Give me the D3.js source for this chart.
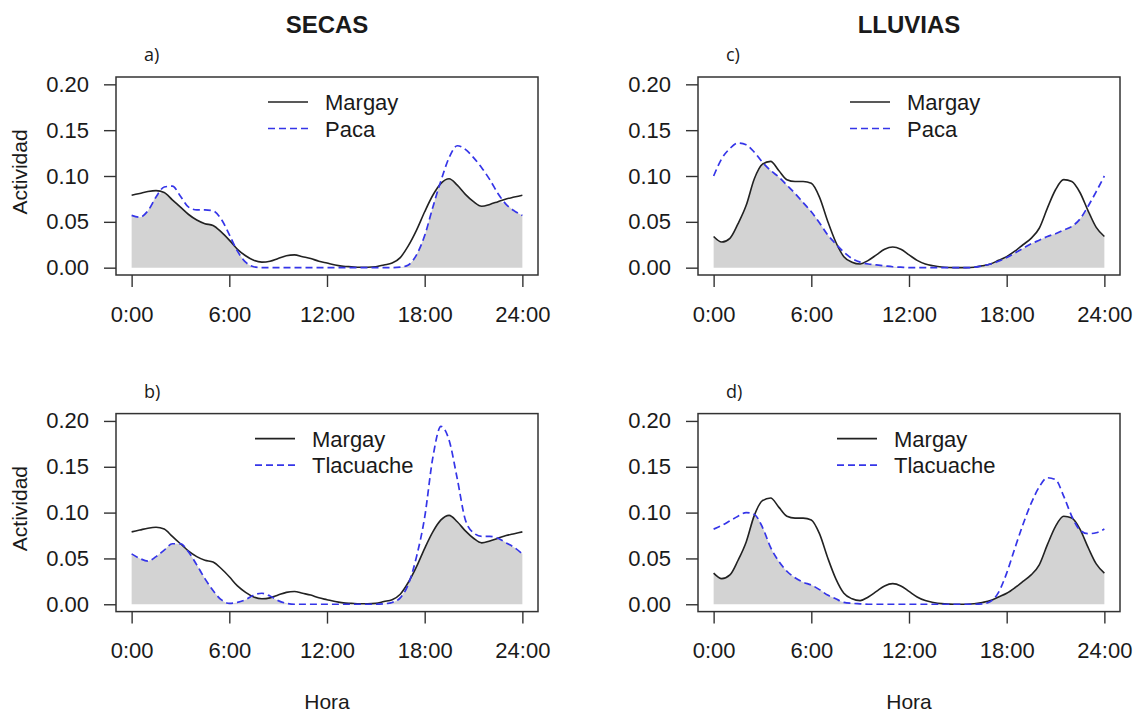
<!DOCTYPE html>
<html>
<head>
<meta charset="utf-8">
<script src="https://cdn.jsdelivr.net/npm/d3@7"></script>
<style>
  body { margin: 0; background: #fff; }
  text { font-family: "Liberation Sans", Arial, sans-serif; fill: #1a1a1a; }
</style>
</head>
<body>
<div id="canvas"></div>
<script>
// hour of day, every half hour
var hours = [0, 0.5, 1, 1.5, 2, 2.5, 3, 3.5, 4, 4.5, 5, 5.5, 6, 6.5, 7, 7.5, 8, 8.5, 9, 9.5,
    10, 10.5, 11, 11.5, 12, 12.5, 13, 13.5, 14, 14.5, 15, 15.5, 16, 16.5, 17, 17.5, 18, 18.5, 19, 19.5,
    20, 20.5, 21, 21.5, 22, 22.5, 23, 23.5, 24]

// activity densities
var margaySecas = [0.079, 0.081, 0.083, 0.084, 0.082, 0.074, 0.066, 0.058, 0.052, 0.048, 0.046, 0.039, 0.030, 0.020, 0.013, 0.008, 0.006, 0.007, 0.010, 0.013,
    0.014, 0.012, 0.010, 0.007, 0.005, 0.003, 0.0015, 0.001, 0.0005, 0.0005, 0.001, 0.003, 0.005, 0.011, 0.024, 0.041, 0.061, 0.079, 0.092, 0.097,
    0.090, 0.080, 0.072, 0.067, 0.069, 0.072, 0.075, 0.077, 0.079]
var pacaSecas = [0.057, 0.055, 0.062, 0.077, 0.088, 0.089, 0.078, 0.066, 0.063, 0.063, 0.062, 0.053, 0.036, 0.018, 0.006, 0.001, 0, 0, 0, 0,
    0, 0, 0, 0, 0, 0, 0, 0, 0, 0, 0, 0, 0, 0.0005, 0.003, 0.014, 0.035, 0.066, 0.095, 0.120,
    0.133, 0.129, 0.120, 0.109, 0.096, 0.081, 0.069, 0.062, 0.057]
var tlacuacheSecas = [0.055, 0.050, 0.047, 0.052, 0.059, 0.066, 0.066, 0.057, 0.043, 0.028, 0.015, 0.005, 0.001, 0.002, 0.005, 0.010, 0.012, 0.009, 0.004, 0.001,
    0, 0, 0, 0, 0, 0, 0, 0, 0, 0, 0, 0.0005, 0.002, 0.007, 0.022, 0.052, 0.095, 0.160, 0.194, 0.179,
    0.137, 0.092, 0.078, 0.074, 0.074, 0.072, 0.067, 0.062, 0.055]
var margayLluvias = [0.034, 0.028, 0.032, 0.048, 0.068, 0.097, 0.113, 0.116, 0.106, 0.096, 0.094, 0.094, 0.092, 0.077, 0.051, 0.028, 0.012, 0.006, 0.004, 0.008,
    0.014, 0.020, 0.0225, 0.020, 0.014, 0.008, 0.004, 0.002, 0.0007, 0.0002, 0, 0, 0.0005, 0.002, 0.004, 0.008, 0.012, 0.018, 0.025, 0.032,
    0.043, 0.065, 0.085, 0.096, 0.094, 0.082, 0.062, 0.044, 0.034]
var pacaLluvias = [0.100, 0.119, 0.130, 0.136, 0.134, 0.126, 0.115, 0.106, 0.099, 0.090, 0.081, 0.071, 0.061, 0.049, 0.036, 0.026, 0.017, 0.010, 0.006, 0.004,
    0.003, 0.002, 0.001, 0.0005, 0, 0, 0, 0, 0, 0, 0, 0, 0.0005, 0.002, 0.004, 0.007, 0.011, 0.016, 0.021, 0.026,
    0.030, 0.034, 0.037, 0.041, 0.045, 0.053, 0.067, 0.083, 0.100]
var tlacuacheLluvias = [0.082, 0.086, 0.091, 0.096, 0.100, 0.098, 0.084, 0.062, 0.047, 0.036, 0.029, 0.024, 0.021, 0.016, 0.010, 0.006, 0.002, 0.001, 0.0005, 0,
    0, 0, 0, 0, 0, 0, 0, 0, 0, 0, 0, 0, 0, 0.0005, 0.003, 0.013, 0.034, 0.061, 0.087, 0.110,
    0.128, 0.138, 0.136, 0.118, 0.096, 0.081, 0.077, 0.078, 0.082]

var xTicks = [0, 6, 12, 18, 24]
var xTickLabels = ["0:00", "6:00", "12:00", "18:00", "24:00"]
var yTicks = [0, 0.05, 0.10, 0.15, 0.20]
var seasonTitles = ["SECAS", "LLUVIAS"]

var width = 1134
var height = 713
var boxW = 422
var boxH = 198

var svg = d3.select("#canvas")
    .append("svg")
    .attr("width", width)
    .attr("height", height)

var panels = [
    { tag: "a)", left: 116, top: 77, base: margaySecas, other: pacaSecas, name: "Paca", legendX: 152, ylab: true, xlab: false },
    { tag: "b)", left: 116, top: 413.6, base: margaySecas, other: tlacuacheSecas, name: "Tlacuache", legendX: 139, ylab: true, xlab: true },
    { tag: "c)", left: 698, top: 77, base: margayLluvias, other: pacaLluvias, name: "Paca", legendX: 152, ylab: false, xlab: false },
    { tag: "d)", left: 698, top: 413.6, base: margayLluvias, other: tlacuacheLluvias, name: "Tlacuache", legendX: 139, ylab: false, xlab: true }
]

// season titles above each column
svg.append("text").attr("x", 327).attr("y", 33).attr("text-anchor", "middle")
    .style("font-size", "24px").style("font-weight", "bold").text(seasonTitles[0])
svg.append("text").attr("x", 909).attr("y", 33).attr("text-anchor", "middle")
    .style("font-size", "24px").style("font-weight", "bold").text(seasonTitles[1])

panels.forEach(function (p) {
    var g = svg.append("g").attr("transform", `translate(${p.left},${p.top})`)

    // R style 4% padding on both axes
    var x = d3.scaleLinear().domain([-0.96, 24.96]).range([0, boxW])
    var y = d3.scaleLinear().domain([-0.008, 0.208]).range([boxH, 0])

    var overlap = hours.map(function (h, i) { return Math.min(p.base[i], p.other[i]) })

    var area = d3.area()
        .x(function (d, i) { return x(hours[i]) })
        .y0(y(0))
        .y1(function (d) { return y(d) })
        .curve(d3.curveMonotoneX)

    var line = d3.line()
        .x(function (d, i) { return x(hours[i]) })
        .y(function (d) { return y(d) })
        .curve(d3.curveMonotoneX)

    g.append("path").datum(overlap).attr("d", area).attr("fill", "#d3d3d3")

    g.append("path").datum(p.base).attr("d", line)
        .attr("fill", "none").attr("stroke", "#222").attr("stroke-width", 1.6)

    g.append("path").datum(p.other).attr("d", line)
        .attr("fill", "none").attr("stroke", "#3535e8").attr("stroke-width", 1.7)
        .attr("stroke-dasharray", "7,4")

    // box
    g.append("rect").attr("width", boxW).attr("height", boxH)
        .attr("fill", "none").attr("stroke", "#333").attr("stroke-width", 1.5)

    var yAxis = g.append("g")
        .call(d3.axisLeft(y).tickValues(yTicks).tickFormat(d3.format(".2f"))
            .tickSize(12).tickPadding(15))
    var xAxis = g.append("g")
        .attr("transform", `translate(0,${boxH})`)
        .call(d3.axisBottom(x).tickValues(xTicks)
            .tickFormat(function (d, i) { return xTickLabels[i] })
            .tickSize(12).tickPadding(19))

    ;[yAxis, xAxis].forEach(function (a) {
        a.select(".domain").remove()
        a.selectAll("line").attr("stroke", "#333").attr("stroke-width", 1.4)
        a.selectAll("text").style("font-size", "22px").attr("fill", "#1a1a1a")
            .style("font-family", '"Liberation Sans", Arial, sans-serif')
    })

    // legend
    var legend = g.append("g").attr("transform", `translate(${p.legendX},0)`)
    var rows = [
        { label: "Margay", color: "#222", dash: null, y: 25 },
        { label: p.name, color: "#3535e8", dash: "7,4", y: 51.5 }
    ]
    rows.forEach(function (r) {
        legend.append("line").attr("x1", 0).attr("x2", 40).attr("y1", r.y).attr("y2", r.y)
            .attr("stroke", r.color).attr("stroke-width", 1.7)
            .attr("stroke-dasharray", r.dash)
        legend.append("text").attr("x", 57).attr("y", r.y + 8)
            .style("font-size", "22px").text(r.label)
    })

    // panel letter
    svg.append("text").attr("x", p.left + 28).attr("y", p.top - 16)
        .style("font-size", "18px").style("font-family", '"Open Sans", sans-serif').text(p.tag)

    if (p.ylab) {
        svg.append("text")
            .attr("transform", `translate(27,${p.top + boxH / 2 - 4}) rotate(-90)`)
            .attr("text-anchor", "middle").style("font-size", "21px").text("Actividad")
    }
    if (p.xlab) {
        svg.append("text").attr("x", p.left + boxW / 2).attr("y", 709)
            .attr("text-anchor", "middle").style("font-size", "21px").text("Hora")
    }
})
</script>
</body>
</html>
